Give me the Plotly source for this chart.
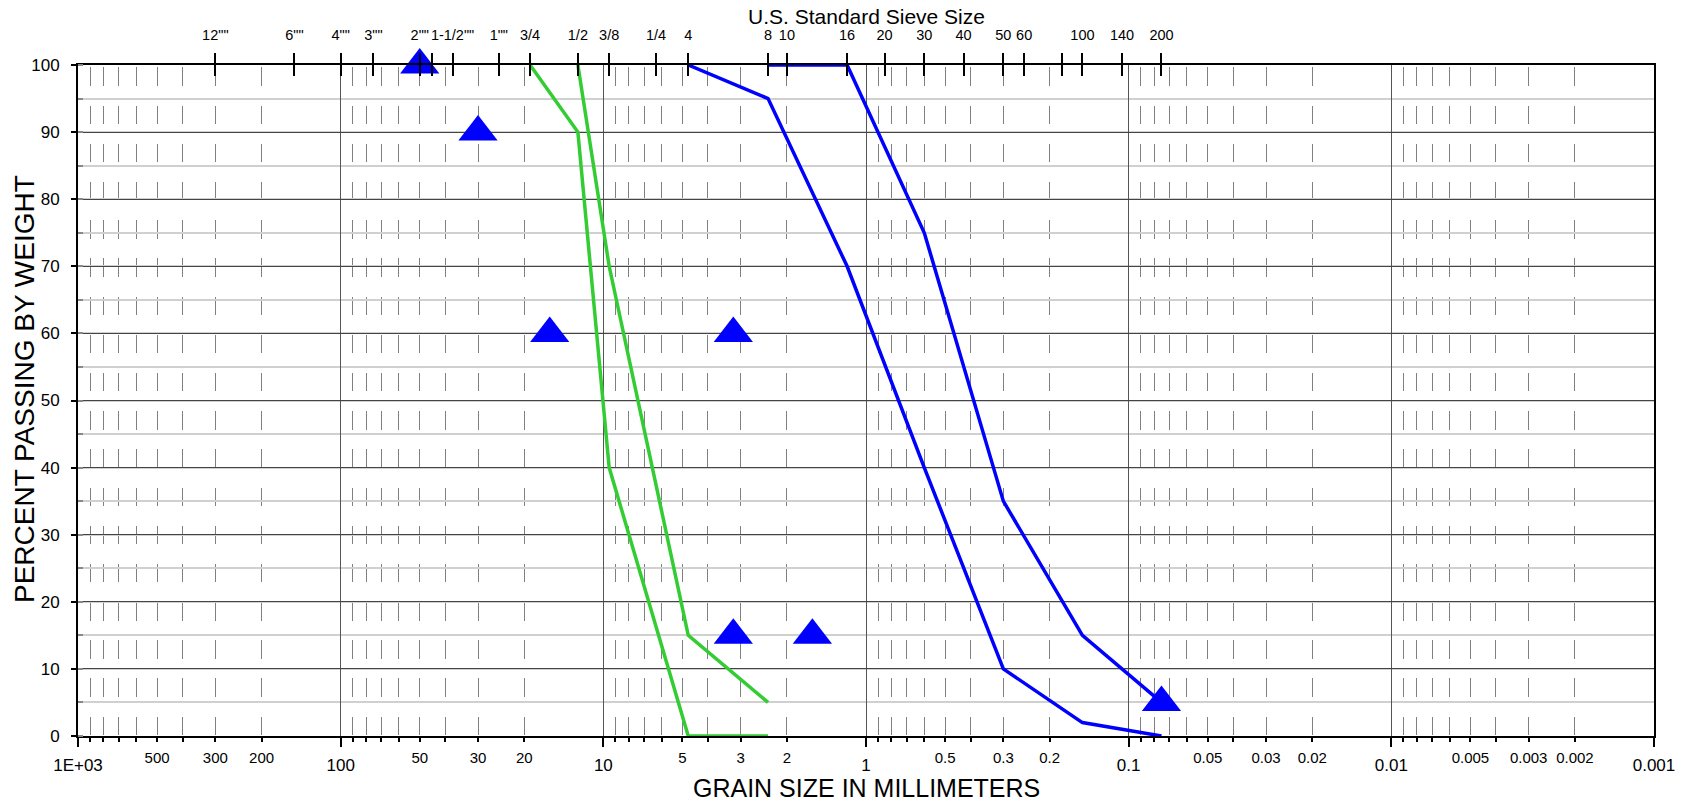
import plotly.graph_objects as go

# ---------------- data ----------------
green_lower_mm = [19.0, 12.5, 9.5, 4.75, 2.36]
green_lower_pct = [100, 90, 40, 0, 0]
green_upper_mm = [12.5, 9.5, 4.75, 2.36]
green_upper_pct = [100, 70, 15, 5]

blue_lower_mm = [4.75, 2.36, 1.18, 0.6, 0.3, 0.15, 0.075]
blue_lower_pct = [100, 95, 70, 40, 10, 2, 0]
blue_upper_mm = [2.36, 1.18, 0.6, 0.3, 0.15, 0.075]
blue_upper_pct = [100, 100, 75, 35, 15, 5]

sample_mm = [50, 30, 16, 3.2, 3.2, 1.6, 0.075]
sample_pct = [100, 90, 60, 60, 15, 15, 5]

decade_vals = [1000, 100, 10, 1, 0.1, 0.01, 0.001]
decade_text = ["1E+03", "100", "10", "1", "0.1", "0.01", "0.001"]
minor_label_vals = [500, 300, 200, 50, 30, 20, 5, 3, 2, 0.5, 0.3, 0.2,
                    0.05, 0.03, 0.02, 0.005, 0.003, 0.002]
minor_label_text = ["500", "300", "200", "50", "30", "20", "5", "3", "2",
                    "0.5", "0.3", "0.2", "0.05", "0.03", "0.02",
                    "0.005", "0.003", "0.002"]
minor_grid_vals = [k * 10.0 ** n for n in range(-3, 3) for k in range(2, 10)]

sieve_mm = [300, 150, 100, 75, 50, 45, 37.5, 25, 19, 12.5, 9.5, 6.3, 4.75,
            2.36, 2.0, 1.18, 0.85, 0.6, 0.425, 0.3, 0.25, 0.18, 0.15, 0.106, 0.075]
sieve_text = ['12""', '6""', '4""', '3""', '2""', '', '1-1/2""', '1""', '3/4',
              '1/2', '3/8', '1/4', '4', '8', '10', '16', '20', '30', '40',
              '50', '60', '', '100', '140', '200']

y_ticks = list(range(0, 101, 10))

GREEN = "#33CC33"
BLUE = "#0000FF"
FONT = "Arial, Liberation Sans, sans-serif"

fig = go.Figure()

# invisible traces so the overlaying axes get drawn
for ax in ["x2", "x3", "x4"]:
    fig.add_trace(go.Scatter(x=sample_mm, y=sample_pct, xaxis=ax, yaxis="y",
                             mode="markers", marker=dict(opacity=0),
                             hoverinfo="skip", showlegend=False))

for xs, ys, col in [(green_lower_mm, green_lower_pct, GREEN),
                    (green_upper_mm, green_upper_pct, GREEN),
                    (blue_lower_mm, blue_lower_pct, BLUE),
                    (blue_upper_mm, blue_upper_pct, BLUE)]:
    fig.add_trace(go.Scatter(x=xs, y=ys, mode="lines",
                             line=dict(color=col, width=3.5),
                             showlegend=False, hoverinfo="skip"))

fig.add_trace(go.Scatter(x=sample_mm, y=sample_pct, mode="markers",
                         marker=dict(symbol="triangle-up", size=34, color=BLUE,
                                     line=dict(width=0)),
                         cliponaxis=False, showlegend=False))

log_common = dict(type="log", range=[3, -3], autorange=False, automargin=False,
                  zeroline=False)

fig.update_layout(
    width=1686, height=804, autosize=False,
    margin=dict(l=77.5, r=32, t=64.5, b=67.5, autoexpand=False),
    paper_bgcolor="white", plot_bgcolor="white",
    font=dict(family=FONT, color="black"),
    showlegend=False,
    xaxis=dict(**log_common,
               tickmode="array", tickvals=decade_vals, ticktext=decade_text,
               ticks="outside", ticklen=9, tickwidth=2, tickcolor="black",
               tickfont=dict(size=17), ticklabelstandoff=4, tickangle=0,
               showline=True, linewidth=2, linecolor="black", mirror=True,
               showgrid=True, gridcolor="#555555", gridwidth=1,
               minor=dict(tickmode="array", tickvals=minor_grid_vals,
                          ticks="outside", ticklen=4, tickwidth=1.5,
                          tickcolor="black", showgrid=True,
                          gridcolor="#808080", gridwidth=1.2,
                          griddash="0px,2.3px,18.5px,17.4px")),
    xaxis2=dict(**log_common, overlaying="x", anchor="y", side="bottom",
                tickmode="array", tickvals=minor_label_vals,
                ticktext=minor_label_text, ticks="", showgrid=False,
                showline=False, tickfont=dict(size=15), ticklabelstandoff=11,
                tickangle=0),
    xaxis3=dict(**log_common, overlaying="x", anchor="y", side="top",
                tickmode="array", tickvals=sieve_mm, ticktext=sieve_text,
                ticks="outside", ticklen=11, tickwidth=2, tickcolor="black",
                showgrid=False, showline=False, tickfont=dict(size=14.5),
                ticklabelstandoff=7, tickangle=0),
    xaxis4=dict(**log_common, overlaying="x", anchor="y", side="top",
                tickmode="array", tickvals=sieve_mm, ticks="inside",
                ticklen=11, tickwidth=2, tickcolor="black",
                showticklabels=False, showgrid=False, showline=False),
    yaxis=dict(range=[0, 100], autorange=False, automargin=False,
               tickmode="array", tickvals=y_ticks,
               ticks="outside", ticklen=5, tickwidth=1.5, tickcolor="black",
               tickfont=dict(size=17), ticklabelstandoff=8,
               showline=True, linewidth=2, linecolor="black", mirror=True,
               showgrid=True, gridcolor="#444444", gridwidth=1, zeroline=False,
               minor=dict(dtick=5, ticks="inside", ticklen=5, tickwidth=1.5,
                          tickcolor="#888888", showgrid=True,
                          gridcolor="#d0d0d0", gridwidth=1.5)),
    annotations=[
        dict(text="U.S. Standard Sieve Size", xref="paper", yref="paper",
             x=0.5, y=1.0722, xanchor="center", yanchor="middle",
             showarrow=False, font=dict(size=21)),
        dict(text="GRAIN SIZE IN MILLIMETERS", xref="paper", yref="paper",
             x=0.5, y=-0.0775, xanchor="center", yanchor="middle",
             showarrow=False, font=dict(size=25)),
        dict(text="PERCENT PASSING BY WEIGHT", xref="paper", yref="paper",
             x=-0.0341, y=0.5175, xanchor="center", yanchor="middle",
             textangle=-90, showarrow=False, font=dict(size=28)),
    ],
)

fig.write_html("out.html",
               config={"displayModeBar": False},
               post_script="document.body.style.margin='0';"
                           "document.body.style.padding='0';")
